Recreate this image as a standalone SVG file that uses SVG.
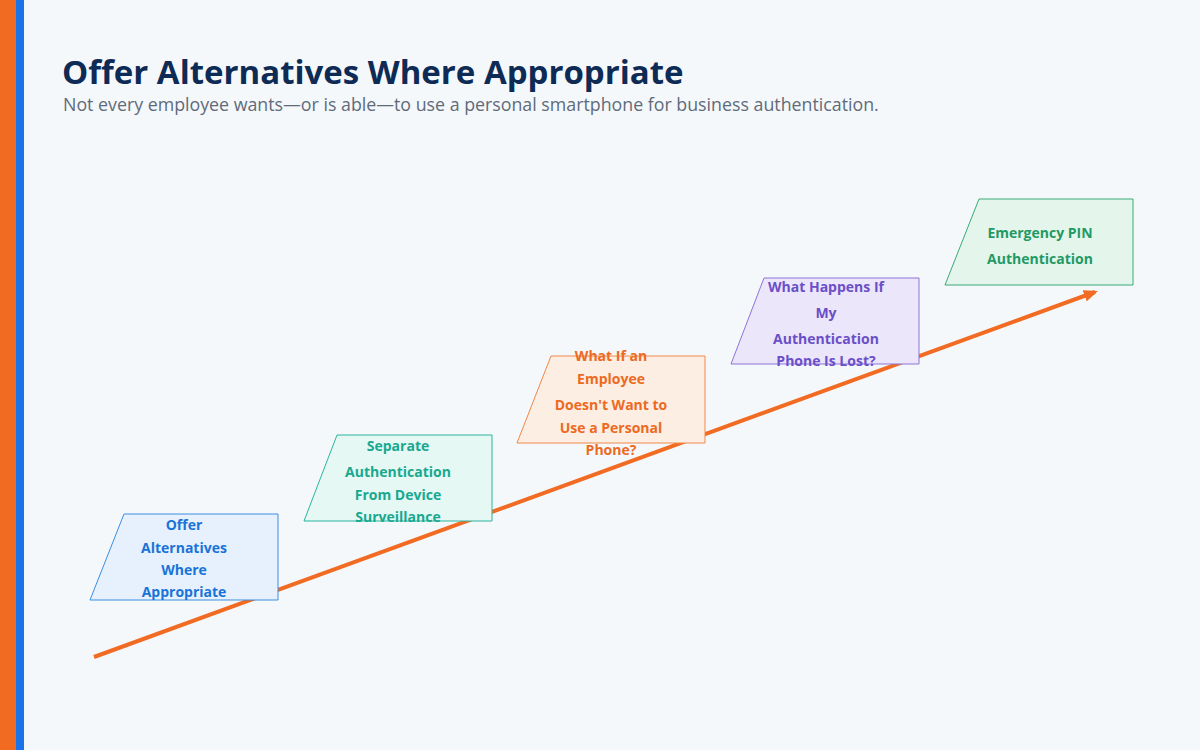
<svg xmlns="http://www.w3.org/2000/svg" width="1200" height="750" viewBox="0 0 1200 750">
<style>
.t{font-family:"Open Sans","Noto Sans",sans-serif;font-weight:700;font-size:14px;text-anchor:middle;dominant-baseline:central}
</style>
<defs>
<marker id="ah" markerWidth="14" markerHeight="12" refX="11" refY="6" orient="auto" markerUnits="userSpaceOnUse" viewBox="0 0 14 12">
<path d="M0,0 L14,6 L0,12 z" fill="#f26b22"/>
</marker>
</defs>
<rect width="1200" height="750" fill="#f5f8fb"/>
<rect x="0" y="0" width="16" height="750" fill="#f26b22"/>
<rect x="16" y="0" width="8" height="750" fill="#1a73e8"/>
<text x="62" y="84" font-family="Open Sans, Noto Sans, sans-serif" font-weight="700" font-size="33" fill="#0d2b55">Offer Alternatives Where Appropriate</text>
<text x="63" y="111" font-family="Open Sans, Noto Sans, sans-serif" font-size="17.8" fill="#5f6b7a">Not every employee wants—or is able—to use a personal smartphone for business authentication.</text>
<g id="connectors">
<line x1="94" y1="657" x2="1095" y2="292" stroke="#f26b22" stroke-width="4" marker-end="url(#ah)"/>
</g>
<g id="n1">
<polygon points="124,514 278,514 278,600 90,600" fill="#e6f1fd" stroke="#3b8ee0" stroke-width="1"/>
<g class="t" fill="#1a73d8"><text x="184" y="524">Offer</text><text x="184" y="547">Alternatives</text><text x="184" y="569">Where</text><text x="184" y="591">Appropriate</text></g>
</g>
<g id="n2">
<polygon points="337,435 492,435 492,521 304,521" fill="#e5f8f3" stroke="#2bb5a0" stroke-width="1"/>
<g class="t" fill="#18a890"><text x="398" y="445">Separate</text><text x="398" y="471">Authentication</text><text x="398" y="494">From Device</text><text x="398" y="516">Surveillance</text></g>
</g>
<g id="n3">
<polygon points="551,356 705,356 705,443 517,443" fill="#fdeee3" stroke="#f0884a" stroke-width="1"/>
<g class="t" fill="#ec6a22"><text x="611" y="355">What If an</text><text x="611" y="378">Employee</text><text x="611" y="404">Doesn't Want to</text><text x="611" y="427">Use a Personal</text><text x="611" y="449">Phone?</text></g>
</g>
<g id="n4">
<polygon points="764,278 919,278 919,364 731,364" fill="#ece6fa" stroke="#8c74d8" stroke-width="1"/>
<g class="t" fill="#6a4fc8"><text x="826" y="286">What Happens If</text><text x="826" y="312">My</text><text x="826" y="338">Authentication</text><text x="826" y="360">Phone Is Lost?</text></g>
</g>
<g id="n5">
<polygon points="979,199 1133,199 1133,285 945,285" fill="#e4f5ec" stroke="#3aaa78" stroke-width="1"/>
<g class="t" fill="#1f9a64"><text x="1040" y="232">Emergency PIN</text><text x="1040" y="258">Authentication</text></g>
</g>
</svg>
